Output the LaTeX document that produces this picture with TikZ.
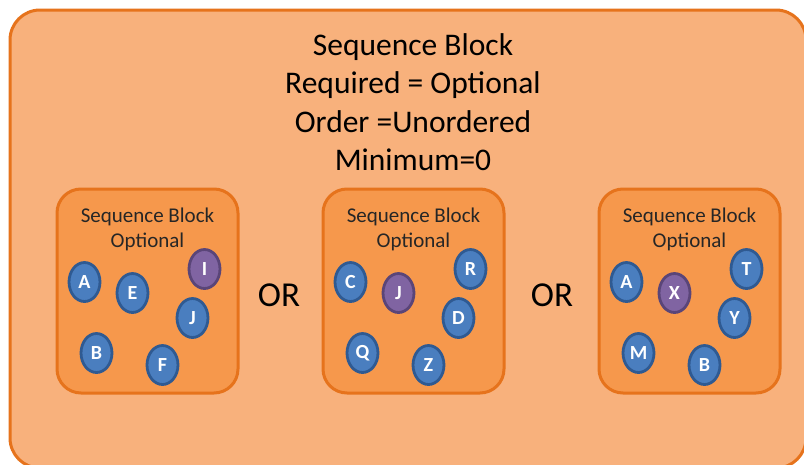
\documentclass[tikz,border=0pt]{standalone}
\usepackage{fontspec}
\setmainfont{Carlito}
\usetikzlibrary{shapes.geometric}
\definecolor{outerfill}{HTML}{F8B17C}
\definecolor{innerfill}{HTML}{F6984C}
\definecolor{orangeline}{HTML}{E6731C}
\definecolor{bluefill}{HTML}{4A7EBF}
\definecolor{blueline}{HTML}{2F5A92}
\definecolor{purplefill}{HTML}{8064A2}
\definecolor{purpleline}{HTML}{5A4578}
\tikzset{
  outerbox/.style={draw=orangeline, fill=outerfill, line width=3pt, rounded corners=30pt},
  innerbox/.style={draw=orangeline, fill=innerfill, line width=3pt, rounded corners=24pt},
  item/.style={ellipse, draw=blueline, fill=bluefill, line width=2.8pt, minimum width=31pt, minimum height=39pt, inner sep=0pt, text=white, font=\fontsize{20}{20}\selectfont\bfseries},
  pitem/.style={item, draw=purpleline, fill=purplefill},
  title/.style={align=center, font=\fontsize{31.5}{38.5}\selectfont, text=black},
  subtitle/.style={align=center, font=\fontsize{21}{25.5}\selectfont, text=black!85},
  ortext/.style={font=\fontsize{35}{35}\selectfont, text=black}
}
\begin{document}
\begin{tikzpicture}[x=1pt,y=-1pt]
\useasboundingbox (0,0) rectangle (804,464);
\clip (0,0) rectangle (804,464);
\fill[white] (0,0) rectangle (804,464);
\draw[outerbox] (10,10) rectangle (806,468);
\node[title] (maintitle) at (413,102) {Sequence Block\\Required = Optional\\Order =Unordered\\Minimum=0};
% boxes
\foreach \n/\cx in {b1/147.5, b2/413.5, b3/689.5} {
  \draw[innerbox] (\cx-90.5,189) rectangle (\cx+90.5,393);
  \node[subtitle] (\n t) at (\cx,229.5) {Sequence Block\\Optional};
}
\node[ortext] (or1) at (279,295) {OR};
\node[ortext] (or2) at (552,295) {OR};
% box 1
\node[item]  (a1) at (147.5-63,282) {A};
\node[item]  (e1) at (147.5-15,293) {E};
\node[pitem] (i1) at (147.5+57,269) {I};
\node[item]  (j1) at (147.5+45,318) {J};
\node[item]  (bb1) at (147.5-51,353) {B};
\node[item]  (f1) at (147.5+15,365) {F};
% box 2
\node[item]  (c2) at (413.5-63,282) {C};
\node[pitem] (j2) at (413.5-15,293) {J};
\node[item]  (r2) at (413.5+57,269) {R};
\node[item]  (d2) at (413.5+45,318) {D};
\node[item]  (q2) at (413.5-51,353) {Q};
\node[item]  (z2) at (413.5+15,365) {Z};
% box 3
\node[item]  (a3) at (689.5-63,282) {A};
\node[pitem] (x3) at (689.5-15,293) {X};
\node[item]  (t3) at (689.5+57,269) {T};
\node[item]  (y3) at (689.5+45,318) {Y};
\node[item]  (m3) at (689.5-51,353) {M};
\node[item]  (bb3) at (689.5+15,365) {B};
\end{tikzpicture}
\end{document}
